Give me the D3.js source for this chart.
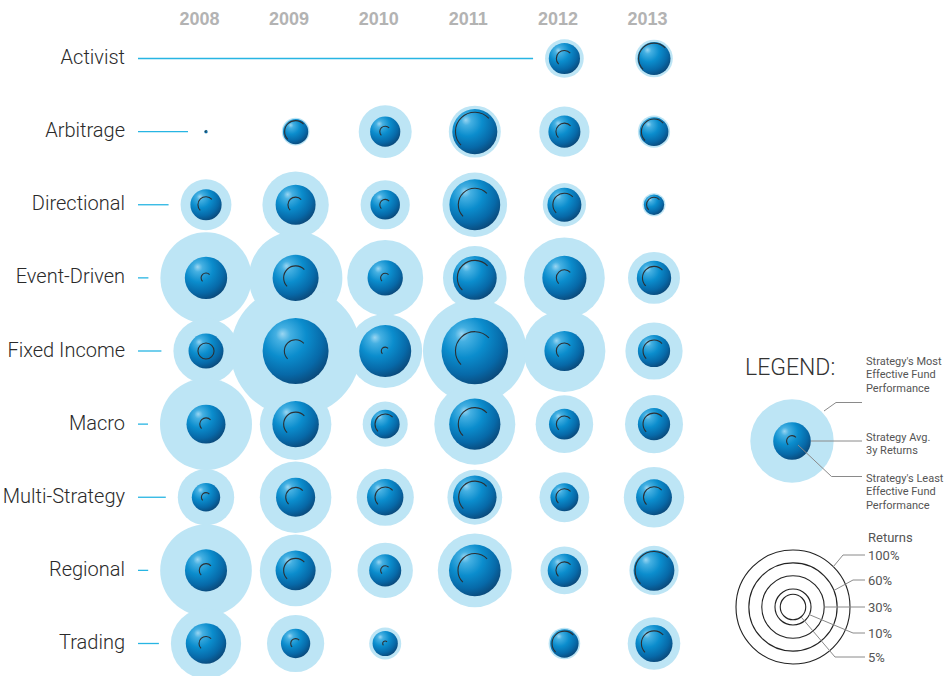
<!DOCTYPE html>
<html><head><meta charset="utf-8">
<script src="https://cdn.jsdelivr.net/npm/d3@7/dist/d3.min.js"></script>
<style>
html,body{margin:0;padding:0;background:#fff;}
svg{display:block;}
</style></head>
<body><svg id="chart" width="948" height="676"></svg>
<script>
// ---------- DATA ----------
const years = ["2008", "2009", "2010", "2011", "2012", "2013"];
const strategies = ["Activist", "Arbitrage", "Directional", "Event-Driven", "Fixed Income",
  "Macro", "Multi-Strategy", "Regional", "Trading"];
// Strategy's most effective fund performance (%), rows follow `strategies`
const mostEffective = [
  [null, null, null, null, 11.5, 10.9],
  [0.12, 5.9, 21.6, 20.8, 19.4, 8.0],
  [19.9, 33.9, 18.6, 32.1, 14.4, 4.1],
  [64.0, 67.4, 44.4, 31.1, 50.2, 20.8],
  [32.7, 130, 42.1, 82.6, 51.7, 25.2],
  [65.1, 39.4, 15.6, 50.5, 25.5, 25.9],
  [24.5, 39.4, 25.2, 23.1, 19.1, 28.1],
  [64.6, 39.4, 23.6, 42.1, 17.6, 18.6],
  [37.9, 25.2, 7.9, null, 7.7, 21.3]
];
// Strategy average 3y returns (%)
const avgReturns = [
  [null, null, null, null, 7.5, 8.4],
  [0.07, 4.9, 7.0, 15.6, 7.9, 6.4],
  [7.5, 12.3, 6.7, 19.9, 8.9, 3.2],
  [13.8, 16.3, 9.6, 14.8, 15.0, 9.1],
  [9.4, 33.5, 20.8, 34.1, 12.3, 8.0],
  [11.7, 16.6, 6.4, 20.2, 7.3, 8.0],
  [6.2, 11.8, 10.2, 14.6, 6.0, 9.9],
  [13.6, 12.3, 7.9, 20.5, 8.6, 12.8],
  [12.6, 6.6, 4.9, null, 6.2, 10.6]
];
// Strategy's least effective fund performance (%)
const leastEffective = [
  [null, null, null, null, 2.0, 7.3],
  [0.02, 3.7, 0.9, 11.5, 2.2, 4.9],
  [2.0, 1.8, 0.9, 8.4, 4.1, 1.7],
  [0.74, 4.4, 0.65, 9.4, 2.0, 4.1],
  [2.0, 3.9, 0.47, 11.5, 2.0, 3.7],
  [1.2, 4.4, 3.2, 8.4, 2.0, 3.7],
  [0.65, 3.0, 3.2, 8.0, 2.2, 3.4],
  [1.4, 4.4, 0.65, 8.7, 2.2, 11.0],
  [1.5, 0.74, 0.19, null, 4.7, 4.9]
];
const returnTicks = [100, 60, 30, 10, 5];
const tickLabels = ["100%", "60%", "30%", "10%", "5%"];
const legendSample = { most: 53.5, avg: 10.9, least: 0.8 };
const closedArcs = ["Fixed Income|2008"];

// ---------- SETUP ----------
const svg = d3.select("#chart");
const font = "Roboto, 'Liberation Sans', sans-serif";
const x = d3.scalePoint().domain(years).range([206, 654]);
const y = d3.scalePoint().domain(strategies).range([58.5, 643.5]);
const r = d3.scaleSqrt().domain([0, 100]).range([0, 57]);

const defs = svg.append("defs");
const grad = defs.append("radialGradient").attr("id", "ball")
  .attr("cx", 0.38).attr("cy", 0.32).attr("r", 0.78).attr("fx", 0.3).attr("fy", 0.24);
[[0, "#9ad6f2"], [0.14, "#45b0e2"], [0.42, "#0b8dcd"], [0.72, "#0769a8"], [0.9, "#0a4d80"], [1, "#0b3760"]]
  .forEach(([o, c]) => grad.append("stop").attr("offset", o).attr("stop-color", c));

const cells = [];
strategies.forEach((s, i) => years.forEach((yr, j) => {
  if (mostEffective[i][j] == null) return;
  cells.push({ s, yr, most: mostEffective[i][j], avg: avgReturns[i][j], least: leastEffective[i][j] });
}));

// arc path for least-effective marker
const A0 = -2.35, A1 = 0.82; // angles from top, clockwise
function arcPath(cx, cy, rad, closed) {
  const p = d3.path();
  if (closed) {
    p.moveTo(cx + rad, cy); p.arc(cx, cy, rad, 0, Math.PI * 2);
  } else {
    const a0 = A0 - Math.PI / 2, a1 = A1 - Math.PI / 2;
    p.moveTo(cx + rad * Math.cos(a0), cy + rad * Math.sin(a0));
    p.arc(cx, cy, rad, a0, a1, false);
  }
  return p.toString();
}

// ---------- YEAR HEADERS ----------
svg.append("g").selectAll("text").data(years).join("text")
  .attr("x", d => x(d) - 6.5).attr("y", 24.5).attr("text-anchor", "middle")
  .attr("font-family", "'Liberation Sans', Arial, sans-serif").attr("font-weight", "bold")
  .attr("font-size", 18).attr("fill", "#b3b3b3").text(d => d);

// ---------- ROW LABELS + LEAD LINES ----------
svg.append("g").selectAll("text").data(strategies).join("text")
  .attr("x", 125).attr("y", d => y(d) + 5.5).attr("text-anchor", "end")
  .attr("font-family", font).attr("font-weight", 300).attr("font-size", 20)
  .attr("fill", "#2a2a2a").text(d => d);

svg.append("g").selectAll("line").data(strategies).join("line")
  .attr("x1", 138).attr("y1", d => y(d)).attr("y2", d => y(d))
  .attr("x2", (d, i) => {
    const j = mostEffective[i].findIndex(v => v != null);
    return x(years[j]) - Math.max(r(mostEffective[i][j]), 6) - 12;
  })
  .attr("stroke", "#27b5e3").attr("stroke-width", 1.3);

// ---------- BUBBLES ----------
svg.append("g").selectAll("circle").data(cells).join("circle")
  .attr("cx", d => x(d.yr)).attr("cy", d => y(d.s)).attr("r", d => r(d.most))
  .attr("fill", "#bde5f5");
svg.append("g").selectAll("circle").data(cells).join("circle")
  .attr("cx", d => x(d.yr)).attr("cy", d => y(d.s)).attr("r", d => r(d.avg))
  .attr("fill", "url(#ball)");
svg.append("g").selectAll("path").data(cells).join("path")
  .attr("d", d => arcPath(x(d.yr), y(d.s), r(d.least), closedArcs.includes(d.s + "|" + d.yr)))
  .attr("fill", "none").attr("stroke", "#2b2f33").attr("stroke-width", 1.1);

// ---------- LEGEND ----------
const lg = svg.append("g");
lg.append("text").attr("x", 745).attr("y", 375).attr("font-family", font).attr("font-weight", 300)
  .attr("font-size", 23).attr("fill", "#333").text("LEGEND:");
const lcx = 792, lcy = 441;
lg.append("circle").attr("cx", lcx).attr("cy", lcy).attr("r", r(legendSample.most)).attr("fill", "#bde5f5");
lg.append("circle").attr("cx", lcx).attr("cy", lcy).attr("r", r(legendSample.avg)).attr("fill", "url(#ball)");
lg.append("path").attr("d", arcPath(lcx, lcy, r(legendSample.least) + 0.3, false))
  .attr("fill", "none").attr("stroke", "#2b2f33").attr("stroke-width", 1.1);
const lineCol = "#8a8a8a";
const legendLeaders = [
  [[824, 411], [836, 402.5], [862, 402.5]],
  [[811, 441], [862, 441]],
  [[798, 445], [831.5, 476.5], [862, 476.5]]
];
lg.selectAll("path.ld").data(legendLeaders).join("path").attr("class", "ld")
  .attr("d", d => d3.line()(d)).attr("fill", "none").attr("stroke", lineCol).attr("stroke-width", 1);
const legendTexts = [
  [866, 364.5, "Strategy's Most"], [866, 378, "Effective Fund"], [866, 391.5, "Performance"],
  [866, 440.5, "Strategy Avg."], [866, 454, "3y Returns"],
  [866, 481.5, "Strategy's Least"], [866, 495, "Effective Fund"], [866, 508.5, "Performance"]
];
lg.selectAll("text.lt").data(legendTexts).join("text").attr("class", "lt")
  .attr("x", d => d[0]).attr("y", d => d[1]).attr("font-family", font)
  .attr("font-size", 11).attr("fill", "#555").text(d => d[2]);

// returns scale
const rcx = 793, rcy = 607;
lg.append("text").attr("x", 868).attr("y", 541.5).attr("font-family", font)
  .attr("font-size", 13).attr("fill", "#555").text("Returns");
lg.selectAll("circle.rs").data(returnTicks).join("circle").attr("class", "rs")
  .attr("cx", rcx).attr("cy", rcy).attr("r", d => r(d))
  .attr("fill", "none").attr("stroke", "#222").attr("stroke-width", 1.1);
const tickAngles = [-45, -22, 0, 25, 51];
const elbows = [[843, 555], [853, 580], null, [853, 633], [835, 657]];
const labelY = [555, 580, 607, 633, 657];
returnTicks.forEach((t, k) => {
  const a = tickAngles[k] * Math.PI / 180;
  const pts = [[rcx + r(t) * Math.cos(a), rcy + r(t) * Math.sin(a)]];
  if (elbows[k]) pts.push(elbows[k]);
  pts.push([865, labelY[k]]);
  lg.append("path").attr("d", d3.line()(pts)).attr("fill", "none")
    .attr("stroke", lineCol).attr("stroke-width", 1);
  lg.append("text").attr("x", 868).attr("y", labelY[k] + 4.5).attr("font-family", font)
    .attr("font-size", 13).attr("fill", "#555").text(tickLabels[k]);
});
</script>
</body></html>
